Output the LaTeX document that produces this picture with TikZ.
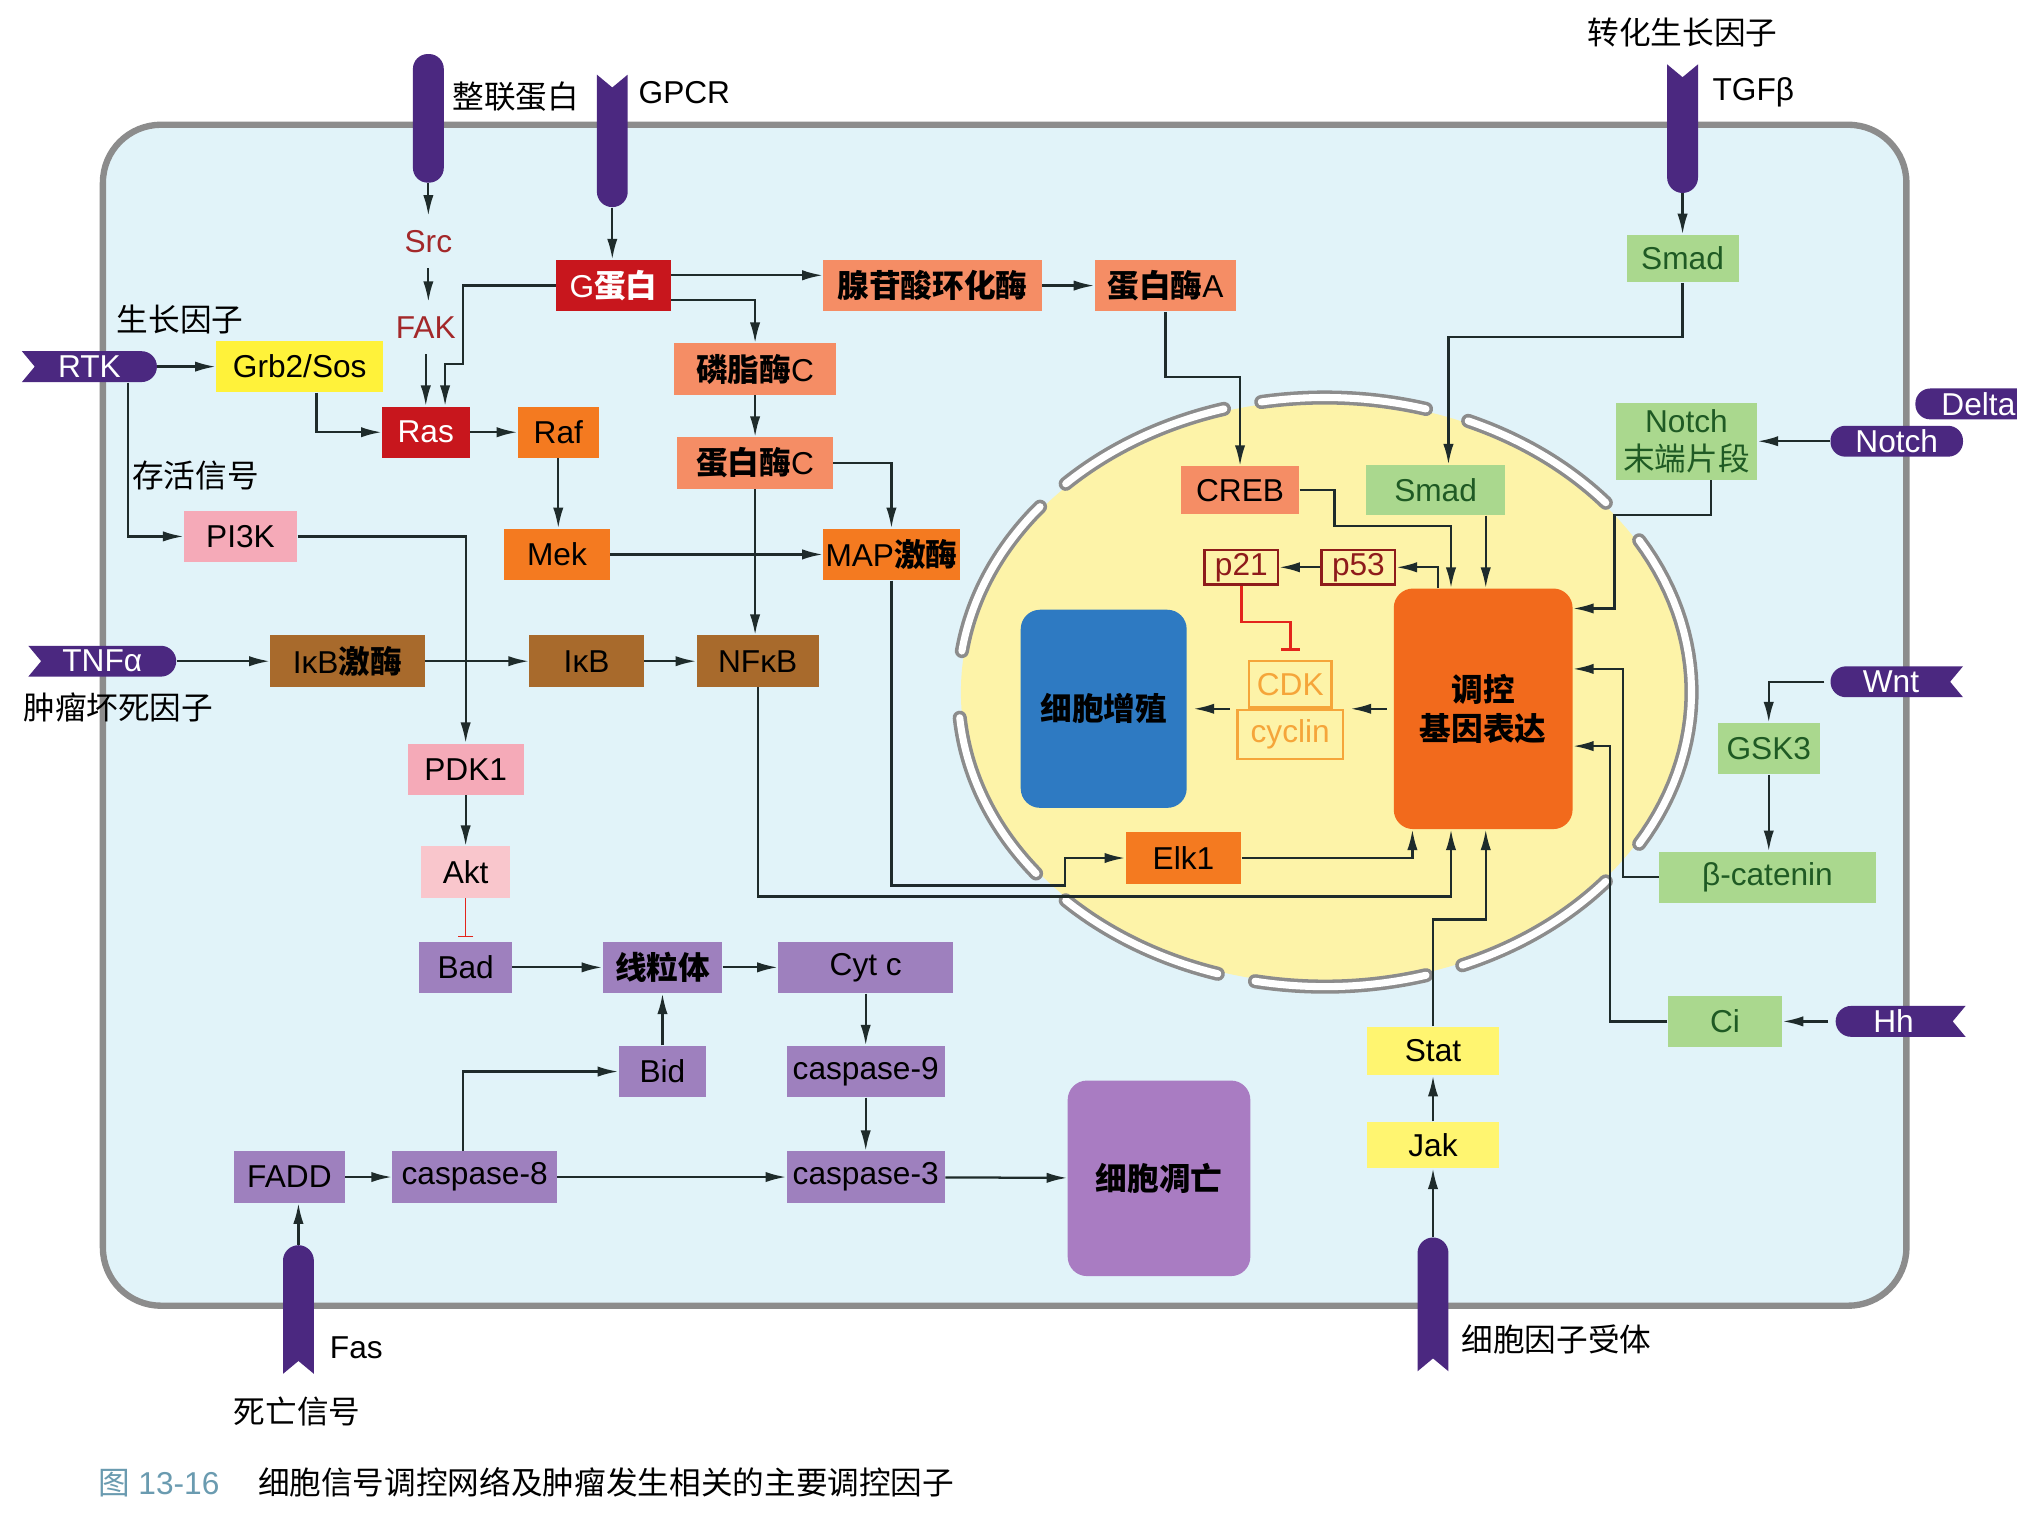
\documentclass[tikz,border=0pt]{standalone}
\usepackage{fontspec}
\setmainfont{Liberation Sans}
\newfontfamily\zh{Noto Sans CJK SC}
\usetikzlibrary{arrows.meta,positioning}
\definecolor{cellblue}{HTML}{E1F3F9}
\definecolor{membgray}{HTML}{8C8C8C}
\definecolor{rpurple}{HTML}{4B2880}
\definecolor{gred}{HTML}{C8161D}
\definecolor{salmon}{HTML}{F58D65}
\definecolor{korange}{HTML}{F47A20}
\definecolor{kbrown}{HTML}{A86A2C}
\definecolor{kpink}{HTML}{F5AAB8}
\definecolor{lpink}{HTML}{F9C6CC}
\definecolor{apurple}{HTML}{9E80BE}
\definecolor{gyellow}{HTML}{FFF23A}
\definecolor{lyellow}{HTML}{FFF570}
\definecolor{lgreen}{HTML}{AAD88E}
\definecolor{dgreen}{HTML}{1F5A24}
\definecolor{nucyellow}{HTML}{FDF3A8}
\definecolor{geneorange}{HTML}{F26A1C}
\definecolor{pblue}{HTML}{2E7AC2}
\definecolor{apopurple}{HTML}{A97CC2}
\definecolor{srcred}{HTML}{A3282A}
\definecolor{pred}{HTML}{8E1B1B}
\definecolor{cdkorange}{HTML}{F5A53A}
\definecolor{inhred}{HTML}{E3241B}
\definecolor{linec}{HTML}{1E2B2B}
\definecolor{capblue}{HTML}{6A9BB0}
\newcommand\cn[1]{{\zh\bfseries #1}}

\begin{document}
\begin{tikzpicture}[x=0.2mm,y=-0.2mm]
\tikzstyle{box}=[minimum height=8mm,inner sep=0pt,font=\fontsize{14}{17}\selectfont]
\tikzstyle{rnode}=[inner sep=0pt,minimum height=4.8mm,text=white,font=\fontsize{14}{17}\selectfont]
\tikzstyle{lbl}=[font=\fontsize{14}{17}\selectfont\zh]
\tikzstyle{rcp}=[fill=rpurple]
\tikzstyle{env}=[draw=membgray,line width=0.55mm,double=white,double distance=1.1mm,line cap=round]
\tikzstyle{con}=[draw=linec,line width=1pt,-{Latex[length=3.2mm,width=1.6mm]}]
\tikzstyle{inh}=[draw=inhred,line width=1.2pt,-{Bar[width=3mm]}]
\useasboundingbox (0,0) rectangle (1568,1180);
\clip (0,0) rectangle (1568,1180);
\fill[white] (0,0) rectangle (1568,1180);
\draw[draw=membgray,line width=2.8pt,fill=cellblue,rounded corners=9mm] (80,97) rectangle (1482,1015);

\fill[nucyellow] (1030,538) ellipse [x radius=283,y radius=227];
\foreach \a/\b in {-135/-106,-100/-74,-67/-40,-31/31,40/68,74/101,107/135,142/175,188/219}
  \draw[env] plot[domain=\a:\b,samples=30] ({1030+285*cos(\x)},{538+229*sin(\x)});

\fill[rcp,rounded corners=2.3mm] (321,42) rectangle (345,142);
\fill[rcp] (464,58) -- (476,68) -- (488,58) -- (488,149) arc[start angle=0,end angle=180,radius=12] -- cycle;
\fill[rcp] (1296,50) -- (1308,60) -- (1320,50) -- (1320,138) arc[start angle=0,end angle=180,radius=12] -- cycle;
\fill[rcp] (220,1068) -- (232,1058) -- (244,1068) -- (244,980) arc[start angle=0,end angle=-180,radius=12] -- cycle;
\fill[rcp] (1102,1066) -- (1114,1056) -- (1126,1066) -- (1126,974) arc[start angle=0,end angle=-180,radius=12] -- cycle;
\fill[rcp] (17,273) -- (27,285) -- (17,297) -- (110,297) arc[start angle=90,end angle=-90,radius=12] -- cycle;
\fill[rcp] (22,502) -- (32,514) -- (22,526) -- (125,526) arc[start angle=90,end angle=-90,radius=12] -- cycle;
\fill[rcp,rounded corners=2.3mm] (1423,331) rectangle (1526,355);
\fill[rcp,rounded corners=2.3mm] (1489,302) rectangle (1620,326);
\fill[rcp] (1526,518) -- (1516,530) -- (1526,542) -- (1435,542) arc[start angle=90,end angle=270,radius=12] -- cycle;
\fill[rcp] (1528,782) -- (1518,794) -- (1528,806) -- (1439,806) arc[start angle=90,end angle=270,radius=12] -- cycle;

\node[rnode,minimum width=21mm] (rtk) at (69.5,285) {RTK};
\node[rnode,minimum width=23mm] (tnf) at (79.5,514) {TNFα};
\node[rnode,minimum width=20.6mm] (notch) at (1474.5,343) {Notch};
\node[rnode] (delta) at (1538,314) {Delta};
\node[rnode,minimum width=20.6mm] (wnt) at (1470,530) {Wnt};
\node[rnode,minimum width=20.2mm] (hh) at (1472,794) {Hh};
\node[rnode,minimum width=4.8mm,minimum height=20mm] (itg) at (333,92) {};
\node[rnode,minimum width=4.8mm,minimum height=20.6mm] (gpcr) at (476,109.5) {};
\node[rnode,minimum width=4.8mm,minimum height=20mm] (tgfr) at (1308,100) {};
\node[rnode,minimum width=4.8mm,minimum height=20mm] (fas) at (232,1018) {};
\node[rnode,minimum width=4.8mm,minimum height=20.8mm] (cytr) at (1114,1014) {};

\node[lbl] (litg) at (401,75) {整联蛋白};
\node[box] (lgpcr) at (532,72) {GPCR};
\node[lbl] (ltgf) at (1308,25) {转化生长因子};
\node[box] (ltgfb) at (1363,72) {TGFβ};
\node[lbl] (lgf) at (140,248) {生长因子};
\node[lbl] (lsurv) at (152,370) {存活信号};
\node[lbl] (ltnf) at (92,550) {肿瘤坏死因子};
\node[box] (lfas) at (277,1048) {Fas};
\node[lbl] (ldeath) at (231,1097) {死亡信号};
\node[lbl] (lcytr) at (1210,1041) {细胞因子受体};

\node[box,text=srcred] (src) at (333,188) {Src};
\node[box,text=srcred] (fak) at (331,255) {FAK};
\node[box,fill=gred,text=white,minimum width=17.8mm] (gprot) at (477,222) {G\cn{蛋白}};
\node[box,fill=salmon,minimum width=34mm] (ac) at (725,222) {\cn{腺苷酸环化酶}};
\node[box,fill=salmon,minimum width=22mm] (pka) at (906,222) {\cn{蛋白酶}A};
\node[box,fill=gyellow,minimum width=26mm] (grb) at (233,285) {Grb2/Sos};
\node[box,fill=gred,text=white,minimum width=13.6mm] (ras) at (331,336) {Ras};
\node[box,fill=korange,minimum width=12.6mm] (raf) at (434,336) {Raf};
\node[box,fill=salmon,minimum width=25.2mm] (plc) at (587,287) {\cn{磷脂酶}C};
\node[box,fill=salmon,minimum width=24.2mm] (pkc) at (587,360) {\cn{蛋白酶}C};
\node[box,fill=kpink,minimum width=17.6mm] (pi3k) at (187,417) {PI3K};
\node[box,fill=korange,minimum width=16.4mm] (mek) at (433,431) {Mek};
\node[box,fill=korange,minimum width=21.2mm] (mapk) at (693,431) {MAP\cn{激酶}};
\node[box,fill=kbrown,minimum width=24mm] (ikk) at (270,514) {IκB\cn{激酶}};
\node[box,fill=kbrown,minimum width=17.8mm] (ikb) at (456,514) {IκB};
\node[box,fill=kbrown,minimum width=19mm] (nfkb) at (589,514) {NFκB};
\node[box,fill=kpink,minimum width=18mm] (pdk) at (362,598) {PDK1};
\node[box,fill=lpink,minimum width=13.8mm] (akt) at (362,678) {Akt};
\node[box,fill=apurple,minimum width=14.4mm] (bad) at (362,752) {Bad};
\node[box,fill=apurple,minimum width=18.6mm] (mito) at (515,752) {\cn{线粒体}};
\node[box,fill=apurple,minimum width=27.2mm] (cytc) at (673,752) {Cyt c};
\node[box,fill=apurple,minimum width=13.6mm] (bid) at (515,833) {Bid};
\node[box,fill=apurple,minimum width=24.6mm] (casp9) at (673,833) {caspase-9};
\node[box,fill=apurple,minimum width=17.2mm] (fadd) at (225,915) {FADD};
\node[box,fill=apurple,minimum width=25.6mm] (casp8) at (369,915) {caspase-8};
\node[box,fill=apurple,minimum width=24.6mm] (casp3) at (673,915) {caspase-3};
\node[box,fill=apopurple,rounded corners=3mm,minimum width=28.4mm,minimum height=30.4mm] (apop) at (901,916) {\cn{细胞凋亡}};

\node[box,fill=salmon,minimum width=18.4mm,minimum height=7.4mm] (creb) at (964,381) {CREB};
\node[box,fill=lgreen,text=dgreen,minimum width=21.6mm,minimum height=7.8mm] (smadn) at (1116,381) {Smad};
\node[box,draw=pred,line width=1.2pt,text=pred,minimum width=11.4mm,minimum height=5.4mm] (p21) at (965,441) {p21};
\node[box,draw=pred,line width=1.2pt,text=pred,minimum width=11.4mm,minimum height=5.4mm] (p53) at (1056,441) {p53};
\node[box,draw=cdkorange,line width=1pt,text=cdkorange,minimum width=12.8mm,minimum height=7.2mm] (cdk) at (1003,532) {CDK};
\node[box,draw=cdkorange,line width=1pt,text=cdkorange,minimum width=16.4mm,minimum height=7.6mm,below=0pt of cdk] (cyclin) {cyclin};
\node[box,fill=pblue,rounded corners=3mm,minimum width=25.8mm,minimum height=30.8mm] (prolif) at (858,551) {\cn{细胞增殖}};
\node[box,fill=geneorange,rounded corners=3mm,minimum width=27.8mm,minimum height=37.4mm,align=center] (gene) at (1153,551) {\cn{调控}\\\cn{基因表达}};
\node[box,fill=korange,minimum width=18mm] (elk) at (920,667) {Elk1};

\node[box,fill=lgreen,text=dgreen,minimum width=17.4mm,minimum height=7.4mm] (smadc) at (1308,201) {Smad};
\node[box,fill=lgreen,text=dgreen,minimum width=22mm,minimum height=12mm,align=center] (notchf) at (1311,343) {Notch\\{\zh 末端片段}};
\node[box,fill=lgreen,text=dgreen,minimum width=15.8mm] (gsk) at (1375,582) {GSK3};
\node[box,fill=lgreen,text=dgreen,minimum width=33.6mm] (bcat) at (1374,682) {β-catenin};
\node[box,fill=lgreen,text=dgreen,minimum width=17.8mm] (ci) at (1341,794) {Ci};
\node[box,fill=lyellow,minimum width=20.4mm,minimum height=7.6mm] (stat) at (1114,817) {Stat};
\node[box,fill=lyellow,minimum width=20.4mm,minimum height=7.2mm] (jak) at (1114,890) {Jak};

\node[anchor=west,font=\fontsize{14}{17}\selectfont] (cap) at (70,1152) {\textcolor{capblue}{{\zh 图} 13-16}\hspace{6mm}{\zh 细胞信号调控网络及肿瘤发生相关的主要调控因子}};

\draw[con] (itg) -- (src);
\draw[con] (src) -- (src |- fak.north);
\draw[con] (fak) -- (fak |- ras.north);
\draw[con] (gprot.west) -| ++(-72,61) -| ([xshift=3mm]ras.north);
\draw[con] (gpcr) -- (gpcr |- gprot.north);
\draw[con] ([yshift=1.6mm]gprot.east) -- ([yshift=1.6mm]ac.west);
\draw[con] ([yshift=-2.2mm]gprot.east) -| (plc.north);
\draw[con] (ac) -- (pka);
\draw[con] (plc) -- (pkc);
\draw[con] (pkc.east) -| (mapk.north);
\draw[con] (pkc.south) -- (pkc.south |- nfkb.north);
\draw[con] (ras) -- (raf);
\draw[con] (raf.south) -- (raf.south |- mek.north);
\draw[con] (rtk) -- (grb);
\draw[con] ([xshift=2.6mm]grb.south) |- (ras.west);
\draw[con] ([xshift=6mm]rtk.south) |- (pi3k.west);
\draw[con] (pi3k.east) -| (pdk.north);
\draw[con] (mek) -- (mapk);
\draw[con] (tnf) -- (ikk);
\draw[con] (ikk) -- (ikb);
\draw[con] (ikb) -- (nfkb);
\draw[con] (nfkb.south) |- ([xshift=-5mm,yshift=-10.4mm]gene.south) -- ([xshift=-5mm]gene.south);
\draw[con] (mapk.south) |- ++(135,237) |- (elk.west);
\draw[con] (elk.east) -| ([xshift=-11mm]gene.south);
\draw[con] (stat.north) |- ([xshift=0.4mm,yshift=-14mm]gene.south) -- ([xshift=0.4mm]gene.south);
\draw[con] (pka.south) -- ++(0,51) -| (creb.north);
\draw[con] (creb.east) -| ++(27,28) -| ([xshift=-5mm]gene.north);
\draw[con] (smadc.south) -- ++(0,42) -| ([xshift=2mm]smadn.north);
\draw[con] ([xshift=7.8mm]smadn.south) -- ([xshift=7.8mm]smadn.south |- gene.north);
\draw[con] ([xshift=-7mm]gene.north) |- (p53.east);
\draw[con] (p53) -- (p21);
\draw[inh] (p21.south) -- ++(0,28) -| ([yshift=1.4mm]cdk.north);
\draw[con,shorten <=1mm,shorten >=1mm] (gene.west) -- (cyclin.east |- gene.west);
\draw[con,shorten <=1mm,shorten >=1mm] (cyclin.west |- prolif.east) -- (prolif.east);
\draw[con] (notch) -- (notchf);
\draw[con] ([xshift=3.8mm]notchf.south) |- ++(-75,27) |- ([yshift=15.6mm]gene.east);
\draw[con] (bcat.west) -| ([xshift=7.8mm,yshift=6.2mm]gene.east) -- ([yshift=6.2mm]gene.east);
\draw[con] (ci.west) -| ([xshift=5.8mm,yshift=-5.8mm]gene.east) -- ([yshift=-5.8mm]gene.east);
\draw[con] (wnt.west) -| (gsk.north);
\draw[con] (gsk) -- (gsk |- bcat.north);
\draw[con] (hh) -- (ci);
\draw[con] (cytr) -- (jak);
\draw[con] (jak) -- (stat);
\draw[con] (tgfr) -- (smadc);
\draw[con] (pdk) -- (akt);
\draw[draw=inhred,line width=0.6pt,-{Bar[width=2.4mm]},shorten >=0.6mm] (akt) -- (bad);
\draw[con] (bad) -- (mito);
\draw[con] (mito) -- (cytc);
\draw[con] (bid) -- (mito);
\draw[con] (cytc) -- (casp9);
\draw[con] (casp9) -- (casp3);
\draw[con] (fadd) -- (casp8);
\draw[con] ([xshift=-1.8mm]casp8.north) |- (bid.west);
\draw[con] (casp8) -- (casp3);
\draw[con] (casp3) -- (apop);
\draw[con] (fas.north) -- (fas.north |- fadd.south);
\end{tikzpicture}
\end{document}
